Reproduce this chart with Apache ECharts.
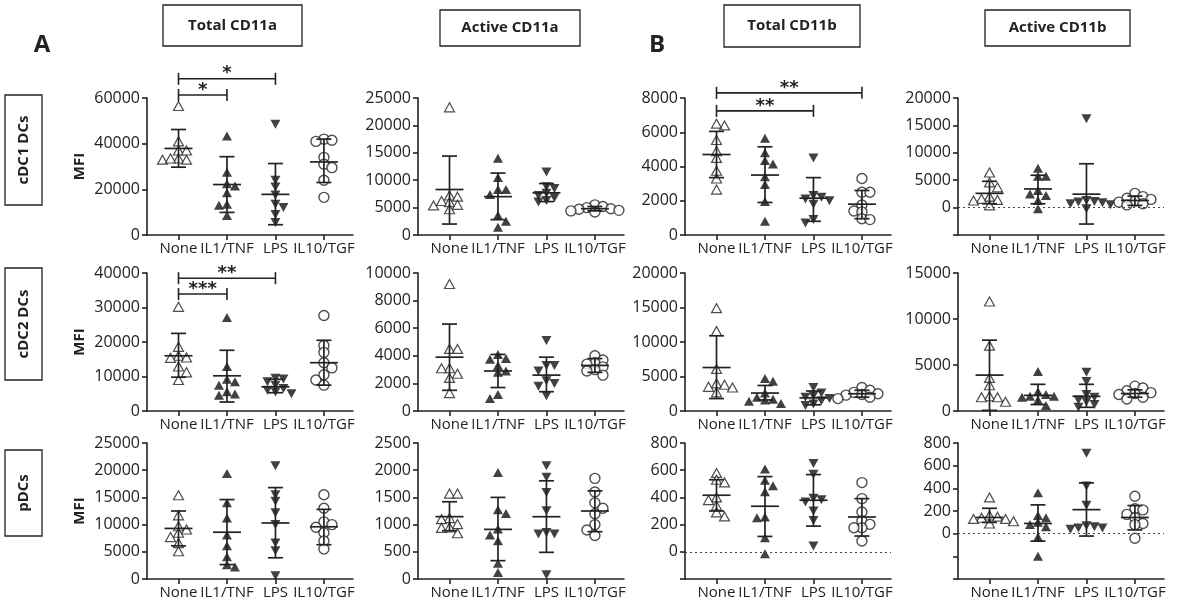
<!DOCTYPE html>
<html><head><meta charset="utf-8">
<script src="https://cdn.jsdelivr.net/npm/echarts@6/dist/echarts.min.js"></script>
<style>html,body{margin:0;padding:0;background:#fff}#c{width:1199px;height:609px}</style>
</head><body><div id="c"></div>
<script>
// ---------- labels ----------
const categories = ['None', 'IL1/TNF', 'LPS', 'IL10/TGF'];
const columnTitles = ['Total CD11a', 'Active CD11a', 'Total CD11b', 'Active CD11b'];
const rowTitles = ['cDC1 DCs', 'cDC2 DCs', 'pDCs'];
const panelLetters = ['A', 'B'];

// ---------- y axes [min, max, interval] ----------
const r1c1_axis = [0, 60000, 20000];
const r1c2_axis = [0, 25000, 5000];
const r1c3_axis = [0, 8000, 2000];
const r1c4_axis = [-5000, 20000, 5000];
const r2c1_axis = [0, 40000, 10000];
const r2c2_axis = [0, 10000, 2000];
const r2c3_axis = [0, 20000, 5000];
const r2c4_axis = [0, 15000, 5000];
const r3c1_axis = [0, 25000, 5000];
const r3c2_axis = [0, 2500, 500];
const r3c3_axis = [-200, 800, 200];
const r3c4_axis = [-400, 800, 200];

// ---------- points per category [None, IL1/TNF, LPS, IL10/TGF] ----------
const r1c1_points = [[56500, 41000, 37000, 37000, 33500, 33000, 33000, 33500],
  [43400, 27500, 22500, 21500, 18500, 13500, 13000, 8500],
  [48500, 24000, 21000, 17500, 13500, 12000, 9000, 5500],
  [42000, 41000, 41500, 34000, 31000, 29500, 24000, 16500]];
const r1c1_mean = [37900, 22100, 17800, 32000];
const r1c1_sd = [[29700, 46200], [9900, 34300], [4500, 31300], [23000, 42000]];
const r1c1_sig = [[0, 1, 61300, '*'], [0, 2, 68400, '*']];

const r1c2_points = [[23300, 7200, 7000, 6200, 6000, 5500, 5400, 4700],
  [14000, 10500, 8300, 8300, 7400, 3600, 2500, 1400],
  [11500, 8800, 8500, 7600, 7200, 6800, 6300, 6000],
  [5500, 5200, 5000, 4800, 4700, 4500, 4400, 4200]];
const r1c2_mean = [8300, 7000, 7700, 4800];
const r1c2_sd = [[2000, 14400], [2800, 11300], [6100, 9400], [4400, 5200]];

const r1c3_points = [[6400, 6500, 5550, 4900, 4500, 3750, 3300, 2650],
  [5650, 4800, 4350, 4150, 3400, 2950, 1950, 800],
  [4500, 2300, 2200, 2100, 2000, 1800, 900, 700],
  [3300, 2500, 2500, 1750, 1400, 1350, 950, 900]];
const r1c3_mean = [4700, 3500, 2150, 1800];
const r1c3_sd = [[3350, 6050], [1900, 5150], [800, 3350], [950, 2600]];
const r1c3_sig = [[0, 2, 7250, '**'], [0, 3, 8300, '**']];

const r1c4_points = [[6400, 4600, 3700, 2000, 1600, 1400, 1300, 400],
  [7200, 5700, 5700, 3100, 2500, 2200, 1300, -200],
  [16200, 1300, 1100, 1000, 900, 700, 500, -200],
  [2600, 2000, 1700, 1500, 1200, 1000, 700, 500]];
const r1c4_mean = [2600, 3400, 2450, 1300];
const r1c4_sd = [[700, 4800], [700, 5900], [-3000, 8000], [400, 2100]];

const r2c1_points = [[30200, 18600, 16000, 15500, 15400, 12900, 11200, 9000],
  [27100, 12900, 9200, 8500, 7500, 5600, 4900, 4600],
  [9500, 9300, 8500, 7500, 6500, 6000, 5500, 5000],
  [27700, 19000, 17000, 14000, 12500, 10500, 9000, 7500]];
const r2c1_mean = [16000, 10200, 7000, 14000];
const r2c1_sd = [[9800, 22500], [2600, 17600], [5300, 9200], [7500, 20500]];
const r2c1_sig = [[0, 1, 33900, '***'], [0, 2, 38500, '**']];

const r2c2_points = [[9200, 4500, 4500, 3100, 3100, 2700, 2400, 1300],
  [4100, 3800, 3750, 3300, 2900, 2800, 1200, 900],
  [5100, 3300, 3300, 2900, 2200, 2000, 1800, 1100],
  [4000, 3700, 3500, 3400, 3200, 3000, 2900, 2600]];
const r2c2_mean = [3900, 2900, 2600, 3300];
const r2c2_sd = [[1500, 6300], [1700, 4100], [1400, 3900], [2800, 3800]];

const r2c3_points = [[14900, 11600, 6100, 4000, 3800, 3500, 3400, 2700],
  [4700, 4300, 2600, 2000, 1700, 1600, 1400, 1100],
  [3400, 2600, 2200, 2000, 1800, 1500, 1000, 800],
  [3400, 3000, 2700, 2500, 2400, 2300, 2000, 1800]];
const r2c3_mean = [6300, 2600, 1900, 2500];
const r2c3_sd = [[1800, 10900], [1600, 3700], [900, 2900], [2000, 3000]];

const r2c4_points = [[11900, 7100, 3600, 2800, 1600, 1500, 1500, 1000],
  [4300, 2100, 1800, 1600, 1600, 1500, 1200, 600],
  [4200, 3200, 1800, 1500, 1200, 1000, 700, 400],
  [2700, 2500, 2200, 2000, 1900, 1800, 1500, 1300]];
const r2c4_mean = [3900, 1700, 1600, 1900];
const r2c4_sd = [[70, 7700], [700, 2900], [400, 2900], [1500, 2300]];

const r3c1_points = [[15400, 11700, 9700, 9100, 8500, 7700, 6600, 5100],
  [19400, 14000, 11200, 8100, 6100, 4100, 2600, 2200],
  [20800, 15500, 14300, 12200, 10000, 6600, 5200, 600],
  [15500, 13000, 10500, 10000, 9500, 8500, 7000, 5500]];
const r3c1_mean = [9300, 8600, 10300, 9600];
const r3c1_sd = [[6100, 12500], [2650, 14600], [3900, 16800], [6300, 12800]];

const r3c2_points = [[1570, 1570, 1120, 1100, 1010, 950, 940, 840],
  [1960, 1273, 1205, 918, 808, 704, 290, 120],
  [2080, 1870, 1590, 1255, 857, 826, 826, 80],
  [1850, 1600, 1400, 1300, 1200, 1000, 900, 800]];
const r3c2_mean = [1146, 912, 1145, 1250];
const r3c2_sd = [[888, 1420], [337, 1500], [490, 1805], [870, 1620]];

const r3c3_points = [[580, 530, 510, 400, 380, 340, 290, 260],
  [608, 527, 485, 441, 251, 256, 103, -15],
  [650, 571, 394, 382, 367, 300, 231, 42],
  [509, 391, 293, 226, 202, 177, 177, 79]];
const r3c3_mean = [416, 335, 379, 256];
const r3c3_sd = [[300, 530], [113, 553], [189, 568], [116, 391]];

const r3c4_points = [[320, 160, 150, 140, 130, 130, 110, 90],
  [360, 160, 140, 100, 80, 60, -30, -200],
  [710, 420, 250, 70, 60, 50, 50, 40],
  [330, 220, 210, 170, 140, 90, 80, -40]];
const r3c4_mean = [143, 90, 212, 143];
const r3c4_sd = [[99, 224], [-66, 254], [-21, 448], [33, 248]];

// ---------- assemble ----------
const panels = [
  {axis: r1c1_axis, pts: r1c1_points, mean: r1c1_mean, sd: r1c1_sd, sig: r1c1_sig},
  {axis: r1c2_axis, pts: r1c2_points, mean: r1c2_mean, sd: r1c2_sd},
  {axis: r1c3_axis, pts: r1c3_points, mean: r1c3_mean, sd: r1c3_sd, sig: r1c3_sig},
  {axis: r1c4_axis, pts: r1c4_points, mean: r1c4_mean, sd: r1c4_sd},
  {axis: r2c1_axis, pts: r2c1_points, mean: r2c1_mean, sd: r2c1_sd, sig: r2c1_sig},
  {axis: r2c2_axis, pts: r2c2_points, mean: r2c2_mean, sd: r2c2_sd},
  {axis: r2c3_axis, pts: r2c3_points, mean: r2c3_mean, sd: r2c3_sd},
  {axis: r2c4_axis, pts: r2c4_points, mean: r2c4_mean, sd: r2c4_sd},
  {axis: r3c1_axis, pts: r3c1_points, mean: r3c1_mean, sd: r3c1_sd},
  {axis: r3c2_axis, pts: r3c2_points, mean: r3c2_mean, sd: r3c2_sd},
  {axis: r3c3_axis, pts: r3c3_points, mean: r3c3_mean, sd: r3c3_sd},
  {axis: r3c4_axis, pts: r3c4_points, mean: r3c4_mean, sd: r3c4_sd}
];

const INK = '#222';
const FONT = 'Open Sans';
const colLeft = [147, 418, 685, 958];
const gridW = 206;
const rowTop = [98, 273, 443];
const rowH = [137, 138, 136];
const STEP = 8;      // horizontal spacing of side-by-side symbols
const MINDIST = 6.5; // allowed centre distance before moving aside

const symbolStyles = [
  {symbol: 'triangle', symbolRotate: 0, size: [10, 9], itemStyle: {color: '#fff', borderColor: INK, borderWidth: 1.2}},
  {symbol: 'triangle', symbolRotate: 0, size: [10, 9], itemStyle: {color: '#111', borderColor: '#111', borderWidth: 0}},
  {symbol: 'triangle', symbolRotate: 180, size: [10, 9], itemStyle: {color: '#111', borderColor: '#111', borderWidth: 0}},
  {symbol: 'circle', symbolRotate: 0, size: 10, itemStyle: {color: '#fff', borderColor: INK, borderWidth: 1.4}}
];

function swarm(vals, min, max, H) {
  const placed = [];
  const offs = new Array(vals.length).fill(0);
  const order = vals.map((v, i) => i).sort((a, b) => vals[b] - vals[a]);
  let flip = 1;
  for (const i of order) {
    const py = (vals[i] - min) / (max - min) * H;
    for (let k = 0; k < 30; k++) {
      const m = k === 0 ? 0 : (k % 2 ? flip * (k + 1) / 2 : -flip * k / 2);
      const dx = m * STEP;
      if (placed.every(p => Math.hypot(p.x - dx, p.y - py) >= MINDIST)) {
        offs[i] = dx; placed.push({x: dx, y: py}); if (k > 0) flip = -flip; break;
      }
    }
  }
  return offs;
}

const grid = [], xAxis = [], yAxis = [], series = [];
panels.forEach((p, i) => {
  const r = Math.floor(i / 4), c = i % 4;
  const [mn, mx, iv] = p.axis;
  grid.push({left: colLeft[c], top: rowTop[r], width: gridW, height: rowH[r], containLabel: false});
  xAxis.push({
    gridIndex: i, type: 'value', min: -0.65, max: 3.6,
    splitLine: {show: false},
    axisLine: {onZero: false, lineStyle: {color: INK, width: 1.6}},
    axisTick: {customValues: [0, 1, 2, 3], length: 5, lineStyle: {color: INK, width: 1.6}},
    axisLabel: {customValues: [0, 1, 2, 3], formatter: v => categories[Math.round(v)],
      hideOverlap: false, showMinLabel: true, showMaxLabel: true,
      fontSize: 15, color: INK, fontFamily: FONT, margin: 6}
  });
  yAxis.push({
    gridIndex: i, type: 'value', min: mn, max: mx, interval: iv,
    splitLine: {show: false},
    axisLine: {show: true, onZero: false, lineStyle: {color: INK, width: 1.6}},
    axisTick: {show: true, length: 5, lineStyle: {color: INK, width: 1.6}},
    axisLabel: {formatter: v => v < 0 ? '' : String(v), fontSize: 16, color: INK, fontFamily: FONT, margin: 7},
    name: c === 0 ? 'MFI' : '', nameLocation: 'middle', nameGap: 60, nameRotate: 90,
    nameTextStyle: {fontSize: 15, fontWeight: 'bold', color: INK, fontFamily: FONT}
  });
  p.pts.forEach((vals, k) => {
    const st = symbolStyles[k];
    const offs = swarm(vals, mn, mx, rowH[r]);
    series.push({
      type: 'scatter', xAxisIndex: i, yAxisIndex: i, z: 3,
      symbol: st.symbol, symbolRotate: st.symbolRotate, symbolSize: st.size,
      itemStyle: st.itemStyle, silent: true,
      data: vals.map((v, j) => ({value: [k, v], symbolOffset: [offs[j], 0]}))
    });
  });
  const bars = {
    type: 'custom', xAxisIndex: i, yAxisIndex: i, z: 5, silent: true,
    data: p.mean.map((m, k) => [k, m, p.sd[k][0], p.sd[k][1]]),
    renderItem: (params, api) => {
      const x = api.value(0);
      const pm = api.coord([x, api.value(1)]);
      const pl = api.coord([x, api.value(2)]);
      const ph = api.coord([x, api.value(3)]);
      const st = {stroke: INK, lineWidth: 1.7};
      return {type: 'group', children: [
        {type: 'line', shape: {x1: pm[0] - 14, y1: pm[1], x2: pm[0] + 14, y2: pm[1]}, style: st},
        {type: 'line', shape: {x1: ph[0], y1: ph[1], x2: pl[0], y2: pl[1]}, style: st},
        {type: 'line', shape: {x1: ph[0] - 7.5, y1: ph[1], x2: ph[0] + 7.5, y2: ph[1]}, style: st},
        {type: 'line', shape: {x1: pl[0] - 7.5, y1: pl[1], x2: pl[0] + 7.5, y2: pl[1]}, style: st}
      ]};
    }
  };
  if (mn < 0) {
    bars.markLine = {symbol: 'none', silent: true, label: {show: false},
      lineStyle: {type: [2, 3], color: '#444', width: 1}, data: [{yAxis: 0}]};
  }
  series.push(bars);
  if (p.sig) {
    const sig = p.sig;
    series.push({
      type: 'custom', xAxisIndex: i, yAxisIndex: i, z: 6, silent: true, clip: false,
      data: sig.map(s => [s[0], s[1], s[2]]),
      renderItem: (params, api) => {
        const a = api.coord([api.value(0), api.value(2)]);
        const b = api.coord([api.value(1), api.value(2)]);
        const st = {stroke: INK, lineWidth: 1.6};
        return {type: 'group', children: [
          {type: 'line', shape: {x1: a[0], y1: a[1], x2: b[0], y2: b[1]}, style: st},
          {type: 'line', shape: {x1: a[0], y1: a[1] - 6, x2: a[0], y2: a[1] + 6}, style: st},
          {type: 'line', shape: {x1: b[0], y1: b[1] - 6, x2: b[0], y2: b[1] + 6}, style: st},
          {type: 'text', style: {text: sig[params.dataIndex][3], x: (a[0] + b[0]) / 2, y: a[1] - 5,
            align: 'center', verticalAlign: 'middle', fontSize: 18, fontWeight: 'bold',
            fontFamily: 'DejaVu Sans', fill: INK}}
        ]};
      }
    });
  }
});

// ---------- decorations ----------
const graphic = [];
const headBoxes = [[163, 5, 139, 41], [440, 10, 140, 36], [724, 5, 136, 42], [985, 10, 145, 36]];
headBoxes.forEach((b, k) => {
  graphic.push({type: 'rect', shape: {x: b[0], y: b[1], width: b[2], height: b[3]},
    style: {fill: 'none', stroke: INK, lineWidth: 1.3}});
  graphic.push({type: 'text', x: b[0] + b[2] / 2, y: b[1] + b[3] / 2,
    style: {text: columnTitles[k], align: 'center', verticalAlign: 'middle',
      fontSize: 15, fontWeight: 'bold', fontFamily: FONT, fill: INK}});
});
const rowBoxes = [[5, 95, 37, 110], [5, 268, 37, 112], [5, 450, 37, 86]];
rowBoxes.forEach((b, k) => {
  graphic.push({type: 'rect', shape: {x: b[0], y: b[1], width: b[2], height: b[3]},
    style: {fill: 'none', stroke: INK, lineWidth: 1.3}});
  graphic.push({type: 'text', x: b[0] + b[2] / 2, y: b[1] + b[3] / 2, rotation: Math.PI / 2,
    style: {text: rowTitles[k], align: 'center', verticalAlign: 'middle',
      fontSize: 15, fontWeight: 'bold', fontFamily: FONT, fill: INK}});
});
[[42, 45], [657, 45]].forEach((pos, k) => {
  graphic.push({type: 'text', x: pos[0], y: pos[1],
    style: {text: panelLetters[k], align: 'center', verticalAlign: 'middle',
      fontSize: 24, fontWeight: 'bold', fontFamily: FONT, fill: INK}});
});

const chart = echarts.init(document.getElementById('c'), null, {renderer: 'canvas'});
chart.setOption({animation: false, backgroundColor: '#fff', grid, xAxis, yAxis, series, graphic});
</script></body></html>
